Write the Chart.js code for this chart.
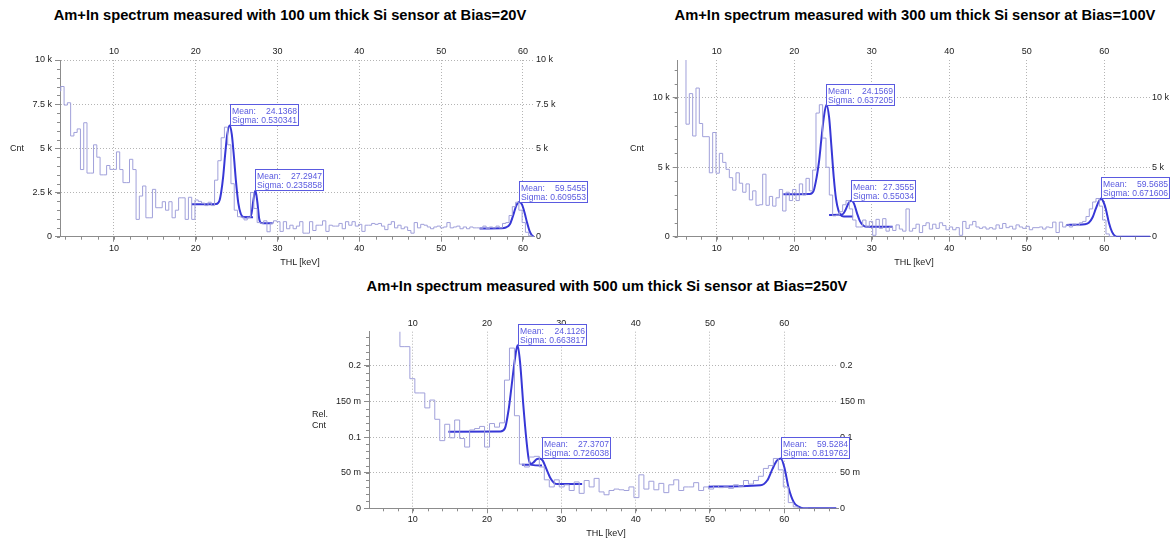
<!DOCTYPE html>
<html>
<head>
<meta charset="utf-8">
<title>Am+In spectra</title>
<script src="https://cdn.jsdelivr.net/npm/chart.js@4.4.1/dist/chart.umd.min.js"></script>
<style>
  body { margin: 0; width: 1170px; height: 542px; position: relative; overflow: hidden; background: #fff;
         font-family: "Liberation Sans", Arial, sans-serif; color: #222; }
  canvas { position: absolute; }
  .title { position: absolute; font-size: 14.7px; font-weight: bold; color: #000; white-space: nowrap; transform: translateX(-50%); }
  .lbl { position: absolute; font-size: 9px; line-height: 11px; white-space: nowrap; }
  .mid { transform: translateX(-50%); }
</style>
</head>
<body>
<div class="title" style="left:290px;top:7px">Am+In spectrum measured with 100 um thick Si sensor at Bias=20V</div>
<div class="title" style="left:915px;top:7px">Am+In spectrum measured with 300 um thick Si sensor at Bias=100V</div>
<div class="title" style="left:607px;top:278px">Am+In spectrum measured with 500 um thick Si sensor at Bias=250V</div>

<canvas id="chart100" width="600" height="230" style="left:0;top:40px"></canvas>
<canvas id="chart300" width="580" height="230" style="left:590px;top:40px"></canvas>
<canvas id="chart500" width="580" height="230" style="left:310px;top:310px"></canvas>

<div class="lbl" style="left:10px;top:143px">Cnt</div>
<div class="lbl" style="left:630px;top:143px">Cnt</div>
<div class="lbl" style="left:312px;top:409px">Rel.<br>Cnt</div>
<div class="lbl mid" style="left:300px;top:257px">THL [keV]</div>
<div class="lbl mid" style="left:914px;top:257px">THL [keV]</div>
<div class="lbl mid" style="left:606px;top:528px">THL [keV]</div>

<script>
// ---- tick labels ----
var xTickValues = [10, 20, 30, 40, 50, 60];
var yTicks100 = [0, 2500, 5000, 7500, 10000];
var yLabels100 = ['0', '2.5 k', '5 k', '7.5 k', '10 k'];
var yTicks300 = [0, 5000, 10000];
var yLabels300 = ['0', '5 k', '10 k'];
var yTicks500 = [0, 0.05, 0.1, 0.15, 0.2];
var yLabels500 = ['0', '50 m', '0.1', '150 m', '0.2'];

// ---- 100 um sensor, Bias=20V ----
var hist100Start = 3.1, hist100Width = 0.4;
var hist100Counts = [
  11000, 8250, 8500, 7450, 7580, 5700, 5900, 6100, 3800, 6450,
  3600, 3600, 5200, 4500, 3500, 3500, 4030, 3810, 3810, 4800,
  3800, 3060, 3060, 4380, 3800, 980, 2300, 2870, 1070, 1070,
  2680, 1640, 1640, 1980, 1500, 1980, 1070, 1500, 2200, 2200,
  980, 2230, 980, 2080, 2000, 1900, 1760, 1950, 1760, 3200,
  4300, 5600, 6200, 5200, 3000, 1500, 1130, 1100, 950, 1100,
  2500, 1600, 800, 760, 900, 280, 760, 900,
  850, 300, 850, 450, 650, 450, 600, 850, 200, 200,
  850, 350, 650, 650, 900, 300, 650, 600, 600, 750,
  450, 850, 650, 850, 600, 700, 300, 650, 650, 750,
  700, 750, 600, 400, 700, 850, 500, 650, 450, 550,
  350, 200, 800, 500, 700, 650, 550, 450, 550, 600,
  500, 550, 800, 500, 550, 600, 450, 550, 450, 550, 500,
  500, 450, 600, 450, 550, 500, 600, 500, 750, 800, 1200, 1700, 1950, 1500, 800, 250, 50
];
var fit100aX = [19.5, 22.5, 22.9, 23.1, 23.35, 23.6, 23.85, 24.14, 24.4, 24.67, 24.9, 25.2, 25.5, 25.8, 26.2, 27.0];
var fit100aY = [1830, 1850, 2050, 2500, 3400, 4700, 5800, 6300, 5800, 4500, 3200, 1900, 1300, 1120, 1100, 1100];
var fit100bX = [25.7, 26.6, 26.82, 27.05, 27.29, 27.53, 27.76, 28.0, 29.4];
var fit100bY = [1100, 1110, 1330, 2100, 2620, 1950, 1000, 780, 760];
var fit100cX = [54.7, 57.4, 57.9, 58.4, 58.9, 59.2, 59.55, 59.9, 60.2, 60.5, 60.8, 61.1, 61.4];
var fit100cY = [470, 480, 520, 700, 1350, 1780, 1970, 1800, 1350, 800, 330, 80, 0];
var fitMeans100 = ['24.1368', '27.2947', '59.5455'];
var fitSigmas100 = ['0.530341', '0.235858', '0.609553'];

// ---- 300 um sensor, Bias=100V ----
var hist300Start = 6.04, hist300Width = 0.43;
var hist300Counts = [
  14000, 8100, 10300, 7250, 10700, 8150, 7200, 7200, 4600, 7500,
  4570, 6000, 5350, 4850, 4250, 3350, 4600, 3850, 3200, 3800,
  2650, 3300, 2260, 2300, 4500, 2260, 2900, 2200, 2800, 3400,
  1850, 3200, 2600, 3400, 2600, 3800, 3000, 4200, 3300, 4800,
  8900, 9500, 7100, 5000, 3000, 1500, 1550, 1800, 2300, 2600,
  2000, 1200, 700, 700, 1200, 700, 1100, 100, 1250, 600,
  1300, 400, 700, 450, 850, 550, 400, 2000, 400, 600,
  900, 300, 800, 1000, 550, 900, 600, 1000, 800, 500,
  700, 500, 650, 100, 1100, 600, 850, 1100, 700, 600,
  700, 550, 650, 550, 850, 600, 950, 650, 750, 550,
  850, 700, 600, 750, 500, 650, 650, 700, 550, 700,
  650, 1050, 300, 1050, 700, 850, 700, 900, 800, 1000,
  1100, 1450, 2000, 2500, 2750, 2200, 1200, 200, 20
];
var fit300aX = [18.6, 22.0, 22.5, 22.9, 23.2, 23.5, 23.8, 24.16, 24.5, 24.8, 25.1, 25.4, 25.7, 26.0, 26.4, 27.6];
var fit300aY = [3060, 3080, 3300, 4300, 5400, 7000, 8500, 9500, 8600, 6500, 4300, 2700, 1900, 1550, 1450, 1450];
var fit300bX = [24.5, 26.2, 26.6, 27.0, 27.36, 27.7, 28.1, 28.5, 28.9, 29.3, 32.7];
var fit300bY = [1570, 1600, 1900, 2400, 2600, 2400, 1700, 1100, 800, 720, 720];
var fit300cX = [55.1, 57.5, 58.0, 58.5, 58.9, 59.3, 59.57, 59.9, 60.2, 60.6, 61.0, 61.4, 61.8, 65.9];
var fit300cY = [850, 900, 1000, 1400, 2000, 2550, 2750, 2500, 2000, 1000, 350, 50, 0, 0];
var fitMeans300 = ['24.1569', '27.3555', '59.5685'];
var fitSigmas300 = ['0.637205', '0.55034', '0.671606'];

// ---- 500 um sensor, Bias=250V (relative counts) ----
var hist500Start = 8.28, hist500Width = 0.67;
var hist500Counts = [
  0.300, 0.227, 0.227, 0.182, 0.162, 0.162, 0.141, 0.152, 0.125, 0.095,
  0.118, 0.099, 0.124, 0.098, 0.086, 0.110, 0.112, 0.115, 0.086, 0.119,
  0.114, 0.120, 0.180, 0.225, 0.130, 0.062, 0.058, 0.072, 0.073, 0.058,
  0.040, 0.030, 0.040, 0.030, 0.033, 0.025, 0.037, 0.021, 0.039, 0.030,
  0.042, 0.023, 0.019, 0.025, 0.027, 0.026, 0.025, 0.030, 0.015, 0.047,
  0.027, 0.038, 0.026, 0.035, 0.022, 0.033, 0.040, 0.025, 0.030, 0.030,
  0.036, 0.025, 0.030, 0.027, 0.032, 0.029, 0.030, 0.028, 0.033, 0.031,
  0.039, 0.034, 0.039, 0.045, 0.056, 0.060, 0.070, 0.054, 0.030, 0.008,
  0.002, 0.000
];
var fit500aX = [14.8, 21.8, 22.4, 22.9, 23.3, 23.8, 24.11, 24.45, 24.9, 25.3, 25.6, 26.0, 27.4];
var fit500aY = [0.1076, 0.108, 0.112, 0.138, 0.171, 0.213, 0.229, 0.205, 0.143, 0.096, 0.07, 0.061, 0.06];
var fit500bX = [24.7, 25.6, 26.2, 26.7, 27.1, 27.5, 28.0, 28.5, 29.0, 29.5, 32.8];
var fit500bY = [0.061, 0.061, 0.064, 0.069, 0.070, 0.067, 0.055, 0.043, 0.036, 0.034, 0.034];
var fit500cX = [49.8, 56.8, 57.7, 58.4, 59.0, 59.53, 60.0, 60.6, 61.3, 62.0, 62.6, 67.0];
var fit500cY = [0.0304, 0.0323, 0.039, 0.055, 0.067, 0.070, 0.058, 0.028, 0.008, 0.002, 0, 0];
var fitMeans500 = ['24.1126', '27.3707', '59.5284'];
var fitSigmas500 = ['0.663817', '0.726038', '0.819762'];

var FONT = '"Liberation Sans", Arial, sans-serif';
var HIST_COLOR = '#a0a0da';
var FIT_COLOR = '#3737d6';
var BOX_COLOR = '#5a5ae0';
var GRID_COLOR = '#b4b4b4';
var AXIS_COLOR = '#8c8c8c';
var TEXT_COLOR = '#222';

// histogram as stepped line: one point per bin edge, dropping to 0 after the last bin
function histogramPoints(start, width, counts) {
  var pts = counts.map(function (c, i) { return { x: start + i * width, y: c }; });
  pts.push({ x: start + counts.length * width, y: 0 });
  return pts;
}

function decorations(cfg) {
  return {
    id: 'decorations',
    afterDatasetsDraw: function (chart) {
      var ctx = chart.ctx, x = chart.scales.x, y = chart.scales.y, area = chart.chartArea;
      ctx.save();
      // minor ticks
      ctx.strokeStyle = AXIS_COLOR;
      ctx.lineWidth = 1;
      ctx.beginPath();
      for (var i = Math.ceil(x.min / 2); i * 2 <= x.max; i++) {
        var px = Math.round(x.getPixelForValue(i * 2)) + 0.5;
        ctx.moveTo(px, area.bottom);
        ctx.lineTo(px, area.bottom + 3);
      }
      for (var j = 0; j * cfg.yMinor <= y.max + 1e-9; j++) {
        var py = Math.round(y.getPixelForValue(j * cfg.yMinor)) + 0.5;
        ctx.moveTo(area.left - 3, py);
        ctx.lineTo(area.left, py);
      }
      ctx.stroke();

      // fit result boxes, bottom-left corner on the fitted peak
      ctx.font = '8.6px ' + FONT;
      cfg.fits.forEach(function (f) {
        var peak = Math.max.apply(null, f.y);
        var left = Math.round(x.getPixelForValue(parseFloat(f.mean))) + 0.5;
        var bottom = Math.round(y.getPixelForValue(peak)) + 0.5;
        var w = Math.ceil(ctx.measureText('Sigma: ' + f.sigma).width) + 3;
        var h = 21;
        ctx.fillStyle = '#fff';
        ctx.fillRect(left, bottom - h, w, h);
        ctx.strokeStyle = BOX_COLOR;
        ctx.strokeRect(left, bottom - h, w, h);
        ctx.fillStyle = BOX_COLOR;
        ctx.textBaseline = 'alphabetic';
        ctx.textAlign = 'left';
        ctx.fillText('Mean:', left + 1.5, bottom - h + 9);
        ctx.fillText('Sigma:', left + 1.5, bottom - 2.5);
        ctx.textAlign = 'right';
        ctx.fillText(f.mean, left + w - 1.5, bottom - h + 9);
        ctx.fillText(f.sigma, left + w - 1.5, bottom - 2.5);
      });
      ctx.restore();
    }
  };
}

function makeChart(id, cfg) {
  var size = function (px) {
    return function (scale) {
      if (scale.isHorizontal()) { scale.height = px; } else { scale.width = px; }
      scale.paddingLeft = scale.paddingRight = scale.paddingTop = scale.paddingBottom = 0;
    };
  };
  var setTicks = function (values) {
    return function (scale) { scale.ticks = values.map(function (v) { return { value: v }; }); };
  };
  var yLabel = function (v) { return cfg.yLabels[cfg.yTicks.indexOf(v)]; };
  var tickFont = { family: FONT, size: 9 };

  var datasets = [{
    data: histogramPoints(cfg.histStart, cfg.histWidth, cfg.histCounts),
    stepped: 'after',
    borderColor: HIST_COLOR,
    borderWidth: 1,
    pointRadius: 0
  }];
  cfg.fits.forEach(function (f) {
    datasets.push({
      data: f.x.map(function (v, i) { return { x: v, y: f.y[i] }; }),
      borderColor: FIT_COLOR,
      borderWidth: 2,
      pointRadius: 0,
      cubicInterpolationMode: 'monotone'
    });
  });

  return new Chart(document.getElementById(id), {
    type: 'line',
    data: { datasets: datasets },
    options: {
      responsive: false,
      animation: false,
      events: [],
      plugins: { legend: { display: false }, tooltip: { enabled: false } },
      scales: {
        x: {
          type: 'linear', position: 'bottom', min: cfg.xMin, max: cfg.xMax,
          afterBuildTicks: setTicks(xTickValues), afterFit: size(cfg.bottom),
          grid: { color: GRID_COLOR, tickColor: AXIS_COLOR, tickLength: 5 },
          border: { color: AXIS_COLOR, dash: [1, 2] },
          ticks: { font: tickFont, color: TEXT_COLOR, padding: 1, autoSkip: false, maxRotation: 0 }
        },
        x2: {
          type: 'linear', position: 'top', min: cfg.xMin, max: cfg.xMax,
          afterBuildTicks: setTicks(xTickValues), afterFit: size(cfg.top),
          grid: { display: false, drawTicks: false },
          border: { display: false },
          ticks: { font: tickFont, color: TEXT_COLOR, padding: 3, autoSkip: false, maxRotation: 0 }
        },
        y: {
          type: 'linear', position: 'left', min: 0, max: cfg.yMax,
          afterBuildTicks: setTicks(cfg.yTicks), afterFit: size(cfg.left),
          grid: { color: GRID_COLOR, tickColor: AXIS_COLOR, tickLength: 5 },
          border: { color: AXIS_COLOR, dash: [1, 2] },
          ticks: { font: tickFont, color: TEXT_COLOR, padding: 3, autoSkip: false, callback: yLabel }
        },
        y2: {
          type: 'linear', position: 'right', min: 0, max: cfg.yMax,
          afterBuildTicks: setTicks(cfg.yTicks), afterFit: size(cfg.right),
          grid: { display: false, drawTicks: false },
          border: { display: false },
          ticks: { font: tickFont, color: TEXT_COLOR, padding: 2, autoSkip: false, callback: yLabel }
        }
      }
    },
    plugins: [decorations(cfg)]
  });
}

function fitList(xs, ys, means, sigmas) {
  return xs.map(function (x, i) { return { x: x, y: ys[i], mean: means[i], sigma: sigmas[i] }; });
}

makeChart('chart100', {
  xMin: 3.4, xMax: 61.35, yMax: 10000, yTicks: yTicks100, yLabels: yLabels100, yMinor: 500,
  left: 60, right: 66, top: 20, bottom: 33.3,
  histStart: hist100Start, histWidth: hist100Width, histCounts: hist100Counts,
  fits: fitList([fit100aX, fit100bX, fit100cX], [fit100aY, fit100bY, fit100cY], fitMeans100, fitSigmas100)
});

makeChart('chart300', {
  xMin: 4.97, xMax: 65.9, yMax: 12720, yTicks: yTicks300, yLabels: yLabels300, yMinor: 1000,
  left: 87.7, right: 20, top: 20, bottom: 33.3,
  histStart: hist300Start, histWidth: hist300Width, histCounts: hist300Counts,
  fits: fitList([fit300aX, fit300bX, fit300cX], [fit300aY, fit300bY, fit300cY], fitMeans300, fitSigmas300)
});

makeChart('chart500', {
  xMin: 4.12, xMax: 67.23, yMax: 0.248, yTicks: yTicks500, yLabels: yLabels500, yMinor: 0.01,
  left: 59, right: 52, top: 21.7, bottom: 31.7,
  histStart: hist500Start, histWidth: hist500Width, histCounts: hist500Counts,
  fits: fitList([fit500aX, fit500bX, fit500cX], [fit500aY, fit500bY, fit500cY], fitMeans500, fitSigmas500)
});
</script>
</body>
</html>
